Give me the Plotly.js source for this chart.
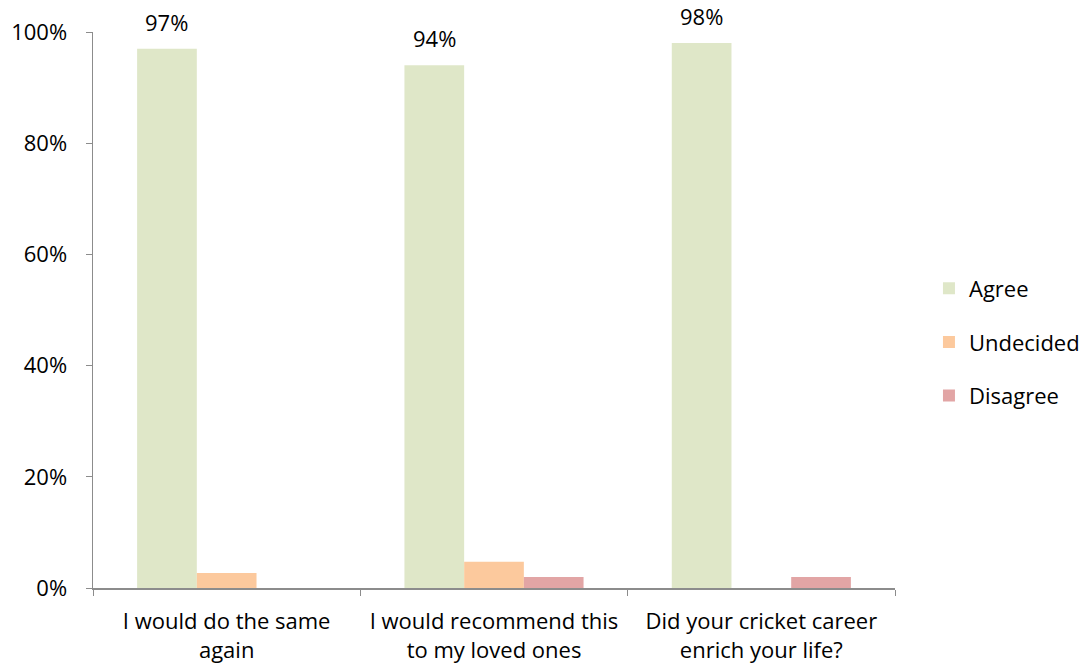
<!DOCTYPE html>
<html>
<head>
<meta charset="utf-8">
<script src="https://cdn.plot.ly/plotly-3.0.1.min.js"></script>
<style>html,body{margin:0;padding:0;background:#fff;}#chart{width:1086px;height:670px;}</style>
</head>
<body>
<div id="chart"></div>
<script>
const categories = ["I would do the same<br>again", "I would recommend this<br>to my loved ones", "Did your cricket career<br>enrich your life?"];
const agree = [0.97, 0.94, 0.98];
const undecided = [0.027, 0.047, 0];
const disagree = [0, 0.02, 0.02];
const agreeLabels = ["97%", "94%", "98%"];

const font = {family: "'Open Sans', 'Noto Sans', sans-serif", size: 22, color: "#000"};

const traces = [
  {type: "bar", name: "Agree", legendgroup: "a", x: categories, y: agree, marker: {color: "#dfe7c8"}},
  {type: "bar", name: "Undecided", legendgroup: "u", x: categories, y: undecided, marker: {color: "#fcc99d"}},
  {type: "bar", name: "Disagree", legendgroup: "d", x: categories, y: disagree, marker: {color: "#e2a5a5"}}
];

const annotations = categories.map((c, i) => ({
  x: c, y: agree[i], xref: "x", yref: "y", text: agreeLabels[i],
  showarrow: false, yanchor: "bottom", xshift: -60, yshift: 10, font: font
}));

const layout = {
  width: 1086, height: 670,
  margin: {l: 93, r: 191, t: 32, b: 82},
  paper_bgcolor: "#fff", plot_bgcolor: "#fff",
  barmode: "group", bargap: 0.33, bargroupgap: 0,
  font: font,
  showlegend: true,
  legend: {xref: "container", x: 0.8554, y: 0.4424, yanchor: "middle", xanchor: "left", font: {family: font.family, size: 22, color: "#000"}, itemwidth: 30, traceorder: "grouped", tracegroupgap: 22, bgcolor: "rgba(0,0,0,0)", borderwidth: 0},
  xaxis: {
    showline: true, linecolor: "#8c8c8c", linewidth: 1.5,
    ticks: "outside", tickson: "boundaries", ticklen: 6, tickcolor: "#8c8c8c",
    tickfont: font, showgrid: false, zeroline: false, ticklabelstandoff: 13
  },
  yaxis: {
    range: [0, 1], dtick: 0.2, tickformat: ".0%",
    showline: true, linecolor: "#8c8c8c", linewidth: 1.5,
    ticks: "outside", ticklen: 6, tickcolor: "#8c8c8c",
    tickfont: font, showgrid: false, zeroline: false, ticklabelstandoff: 14
  },
  annotations: annotations
};

Plotly.newPlot("chart", traces, layout, {displayModeBar: false, staticPlot: true});
</script>
</body>
</html>
